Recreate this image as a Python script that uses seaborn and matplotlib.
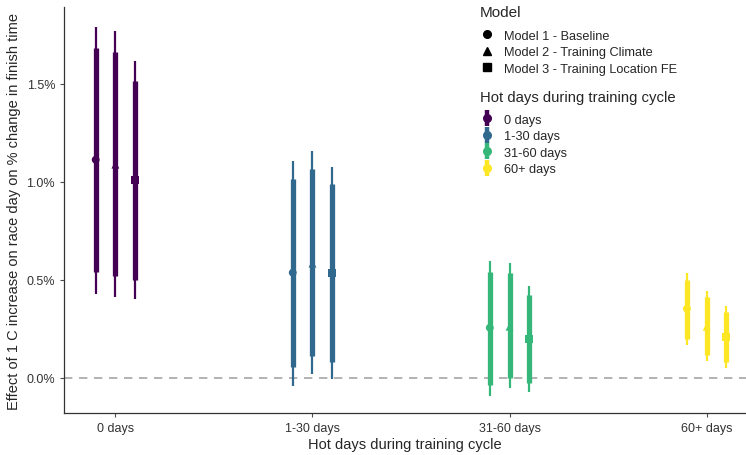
import numpy as np
import pandas as pd
import matplotlib
matplotlib.use("Agg")
import matplotlib.pyplot as plt
import seaborn as sns
from matplotlib.lines import Line2D
from matplotlib.legend_handler import HandlerTuple

groups = ["0 days", "1-30 days", "31-60 days", "60+ days"]
models = ["Model 1 - Baseline", "Model 2 - Training Climate", "Model 3 - Training Location FE"]

# values in percent, order: group-major, model-minor
est  = [1.112, 1.087, 1.010,  0.536, 0.582, 0.536,  0.255, 0.260, 0.199,  0.352, 0.260, 0.209]
lo90 = [0.541, 0.520, 0.500,  0.056, 0.112, 0.082, -0.036, 0.000, -0.026, 0.199, 0.117, 0.082]
hi90 = [1.684, 1.663, 1.515,  1.015, 1.066, 0.990,  0.541, 0.536, 0.424,  0.500, 0.413, 0.337]
lo95 = [0.429, 0.413, 0.403, -0.041, 0.020, -0.005, -0.092, -0.051, -0.071, 0.168, 0.087, 0.051]
hi95 = [1.790, 1.770, 1.617,  1.107, 1.158, 1.077,  0.593, 0.587, 0.469,  0.536, 0.444, 0.367]

sns.set_theme(style="ticks")
plt.rcParams["font.family"] = ["Liberation Sans", "DejaVu Sans"]

df = pd.DataFrame({
    "group": np.repeat(groups, len(models)),
    "model": models * len(groups),
    "est": est, "lo90": lo90, "hi90": hi90, "lo95": lo95, "hi95": hi95,
})
dodge = {m: (i - 1) * 0.1 for i, m in enumerate(models)}
df["xpos"] = df["group"].map({g: i for i, g in enumerate(groups)}) + df["model"].map(dodge)

palette = dict(zip(groups, ["#440154", "#31688E", "#35B779", "#FDE725"]))
markers = dict(zip(models, ["o", "^", "s"]))

fig = plt.figure(figsize=(7.46, 4.56), dpi=100)
ax = fig.add_axes([0.086, 0.092, 0.914, 0.89])

ax.axhline(0, color="#a6a6a6", linestyle=(0, (5, 4)), linewidth=1.2, zorder=0)

cols = df["group"].map(palette)
ax.vlines(df["xpos"], df["lo95"], df["hi95"], colors=cols, linewidth=1.6, zorder=2)
ax.vlines(df["xpos"], df["lo90"], df["hi90"], colors=cols, linewidth=3.8, zorder=3)

sns.scatterplot(data=df, x="xpos", y="est", hue="group", style="model",
                palette=palette, markers=markers, s=32, linewidth=0,
                legend=False, ax=ax, zorder=4)

ax.set_xlim(-0.26, 3.2)
ax.set_ylim(-0.18, 1.89)
ax.set_xticks(range(len(groups)))
ax.set_xticklabels(groups)
ax.set_yticks([0, 0.5, 1.0, 1.5])
ax.set_yticklabels(["0.0%", "0.5%", "1.0%", "1.5%"])
ax.tick_params(axis="both", labelsize=9, colors="#4d4d4d", length=3, width=0.8)
for lab in ax.get_xticklabels() + ax.get_yticklabels():
    lab.set_color("#333333")
ax.set_xlabel("Hot days during training cycle", fontsize=10.5, labelpad=2)
ax.set_ylabel("Effect of 1 C increase on race day on % change in finish time", fontsize=10.5, labelpad=4)
sns.despine(ax=ax)
for sp in ["left", "bottom"]:
    ax.spines[sp].set_color("#333333")
    ax.spines[sp].set_linewidth(0.9)

# legends (titles as separate text for precise spacing)
fig.text(0.643, 1 - 13 / 456, "Model", fontsize=11, va="center", ha="left")
mh = [Line2D([], [], marker=markers[m], color="black", linestyle="none", markersize=5.5) for m in models]
leg1 = fig.legend(mh, models, loc="upper left", bbox_to_anchor=(0.638, 1 - 25.5 / 456),
                  frameon=False, fontsize=9.2, handlelength=0.9, handletextpad=0.9,
                  labelspacing=0.36, borderaxespad=0)

fig.text(0.643, 1 - 98 / 456, "Hot days during training cycle", fontsize=10.7, va="center", ha="left")
gh = [(Line2D([], [], marker="|", color=palette[g], linestyle="none", markersize=11, markeredgewidth=3.2),
       Line2D([], [], marker="o", color=palette[g], linestyle="none", markersize=5.5))
      for g in groups]
leg2 = fig.legend(gh, groups, loc="upper left", bbox_to_anchor=(0.638, 1 - 109.5 / 456),
                  frameon=False, fontsize=9.2, handlelength=0.9, handletextpad=0.9,
                  labelspacing=0.36, borderaxespad=0,
                  handler_map={tuple: HandlerTuple(ndivide=1, pad=0)})

fig.savefig("out.png", dpi=100)
